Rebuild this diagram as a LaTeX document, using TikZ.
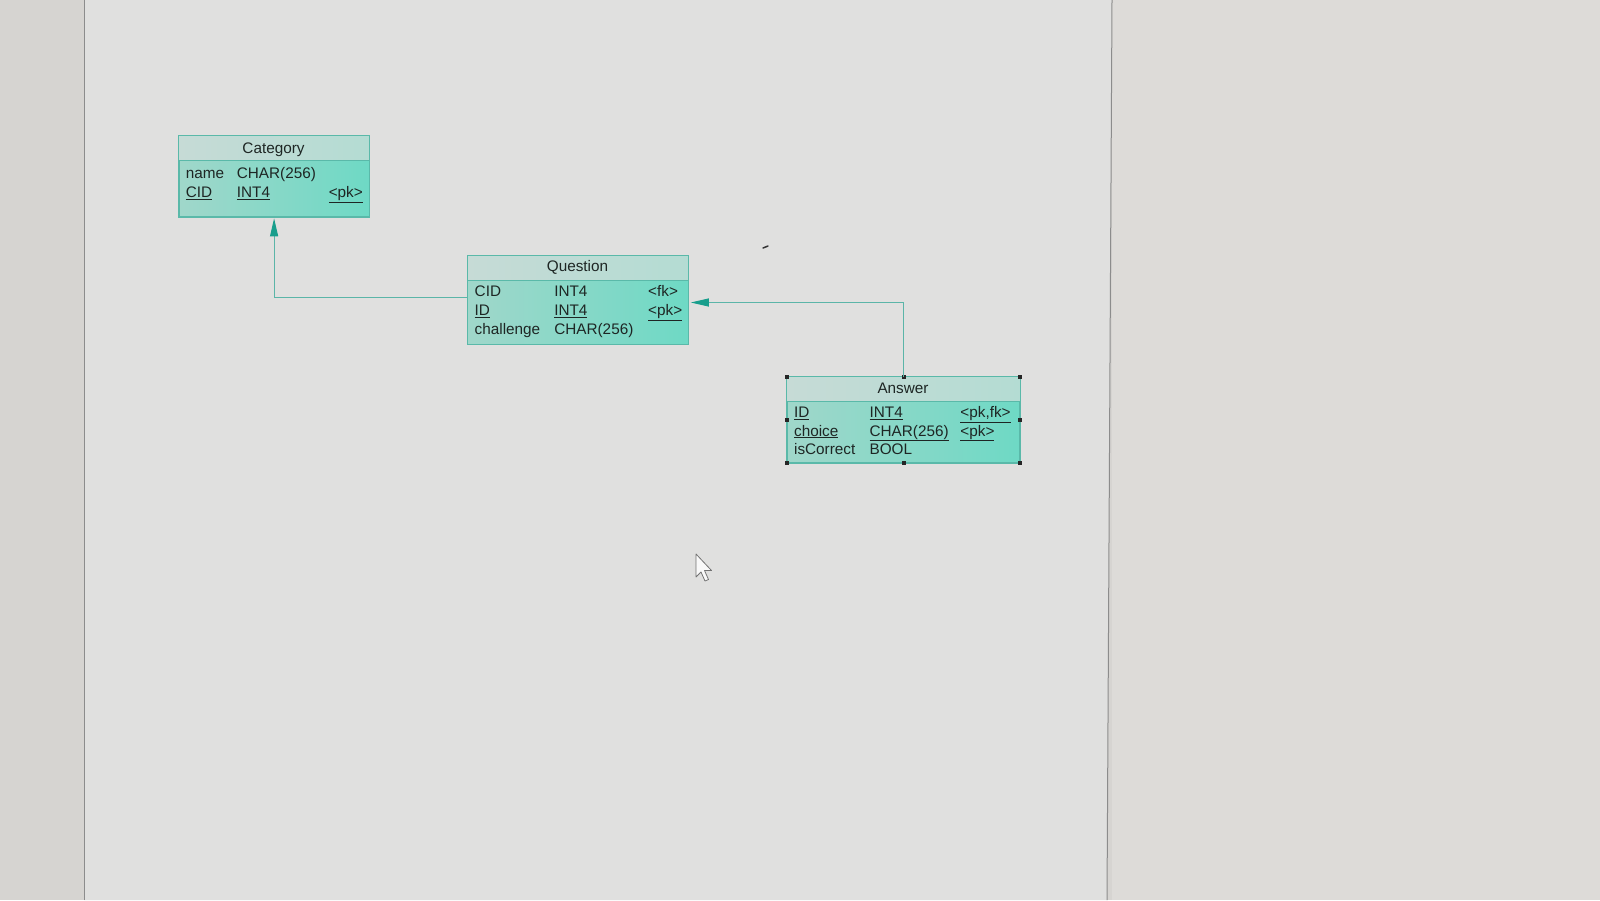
\documentclass[tikz,border=0pt]{standalone}
\usepackage{fontspec}
\setmainfont{Liberation Sans}
\usetikzlibrary{arrows.meta}
\definecolor{bgout}{HTML}{D6D4D1}
\definecolor{bgright}{HTML}{DDDBD8}
\definecolor{bgpage}{HTML}{E0E0DF}
\definecolor{pageline}{HTML}{8C8C8C}
\definecolor{tblborder}{HTML}{5AB9A9}
\definecolor{bodyL}{HTML}{A0D7CA}
\definecolor{bodyR}{HTML}{6ED9C5}
\definecolor{hdrL}{HTML}{C6DBD6}
\definecolor{hdrR}{HTML}{B4DCD3}
\definecolor{txt}{HTML}{1E2624}
\definecolor{conn}{HTML}{5BB5A8}
\definecolor{tip}{HTML}{189E8C}
\tikzset{
  tbl/.style={rectangle, draw=tblborder, line width=1pt, left color=bodyL, right color=bodyR, inner sep=0pt, anchor=north west},
  hdr/.style={left color=hdrL, right color=hdrR},
  sep/.style={draw=tblborder, line width=1pt},
  fld/.style={anchor=base west, inner sep=0pt, text=txt, font=\fontsize{15.3}{18}\selectfont},
  ttl/.style={anchor=base, inner sep=0pt, text=txt, font=\fontsize{15.3}{18}\selectfont},
  rel/.style={draw=conn, line width=1pt, -{Triangle[length=18pt,width=8pt,color=tip,fill=tip]}},
  handle/.style={fill=black!85}
}
\begin{document}
\begin{tikzpicture}[x=1pt,y=-1pt]
\useasboundingbox (0,0) rectangle (1600,900);
% photo background
\fill[bgout] (0,0) rectangle (1600,900);
\fill[bgright] (1112,0) rectangle (1600,900);
\fill[bgpage] (84,0) -- (1112,0) -- (1107,900) -- (84,900) -- cycle;
\draw[pageline, line width=1pt] (84,0) -- (84,900);
\draw[pageline, line width=1pt] (1112,0) -- (1107,900);

% Category
\node[tbl, minimum width=190pt, minimum height=80.6pt] (c) at (178.6,135.7) {};
\fill[hdr] ([shift={(0.5pt,-0.5pt)}]c.north west) rectangle ([shift={(-0.5pt,-24.5pt)}]c.north east);
\draw[sep] ([yshift=-24.5pt]c.north west) -- ([yshift=-24.5pt]c.north east);
\draw[draw=tblborder, line width=1pt] (c.north west) rectangle (c.south east);
\node[ttl] (ch) at (273.5,153.5) {Category};
\node[fld] (c1a) at (185.7,178) {name};
\node[fld] (c1b) at (236.7,178) {CHAR(256)};
\node[fld] (c2a) at (185.7,197.3) {\underline{CID}};
\node[fld] (c2b) at (236.7,197.3) {\underline{INT4}};
\node[fld] (c2c) at (328.6,197.3) {\underline{<pk>}};

% Question
\node[tbl, minimum width=220.5pt, minimum height=88.8pt] (q) at (467.3,255.1) {};
\fill[hdr] ([shift={(0.5pt,-0.5pt)}]q.north west) rectangle ([shift={(-0.5pt,-25.5pt)}]q.north east);
\draw[sep] ([yshift=-25.5pt]q.north west) -- ([yshift=-25.5pt]q.north east);
\draw[draw=tblborder, line width=1pt] (q.north west) rectangle (q.south east);
\node[ttl] (qh) at (577.5,271.8) {Question};
\node[fld] (q1a) at (474.5,296.3) {CID};
\node[fld] (q1b) at (554.1,296.3) {INT4};
\node[fld] (q1c) at (648,296.3) {<fk>};
\node[fld] (q2a) at (474.5,315.7) {\underline{ID}};
\node[fld] (q2b) at (554.1,315.7) {\underline{INT4}};
\node[fld] (q2c) at (648,315.7) {\underline{<pk>}};
\node[fld] (q3a) at (474.5,334.1) {challenge};
\node[fld] (q3b) at (554.1,334.1) {CHAR(256)};

% Answer
\node[tbl, minimum width=232.6pt, minimum height=85.7pt] (a) at (786.8,376.5) {};
\fill[hdr] ([shift={(0.5pt,-0.5pt)}]a.north west) rectangle ([shift={(-0.5pt,-24.5pt)}]a.north east);
\draw[sep] ([yshift=-24.5pt]a.north west) -- ([yshift=-24.5pt]a.north east);
\draw[draw=tblborder, line width=1pt] (a.north west) rectangle (a.south east);
\node[ttl] (ah) at (903,393.3) {Answer};
\node[fld] (a1a) at (793.9,417.7) {\underline{ID}};
\node[fld] (a1b) at (869.4,417.7) {\underline{INT4}};
\node[fld] (a1c) at (960.2,417.7) {\underline{<pk,fk>}};
\node[fld] (a2a) at (793.9,436.1) {\underline{choice}};
\node[fld] (a2b) at (869.4,436.1) {\underline{CHAR(256)}};
\node[fld] (a2c) at (960.2,436.1) {\underline{<pk>}};
\node[fld] (a3a) at (793.9,454.5) {isCorrect};
\node[fld] (a3b) at (869.4,454.5) {BOOL};

% selection handles
\foreach \p in {a.north west,a.north,a.north east,a.west,a.east,a.south west,a.south,a.south east}
  \fill[handle] ([shift={(-2pt,-2pt)}]\p) rectangle ([shift={(2pt,2pt)}]\p);

% relationships
\coordinate (qin) at ([yshift=2.5pt]q.west);
\draw[rel] (qin) -| ([yshift=-1pt]c.south);
\coordinate (qout) at ([shift={(2pt,-2.5pt)}]q.east);
\draw[rel] (a.north) |- (qout);

% stray mark and mouse cursor
\draw[black!80, line width=1.5pt, line cap=round] (763,248) -- (768,246);
\draw[black!55, fill=white!95!gray, line width=0.8pt, line join=round]
  (696,554) -- (696,577) -- (701,572) -- (705,581) -- (708.5,579.5) -- (704.5,570.5) -- (711.5,570.5) -- cycle;
\end{tikzpicture}
\end{document}
